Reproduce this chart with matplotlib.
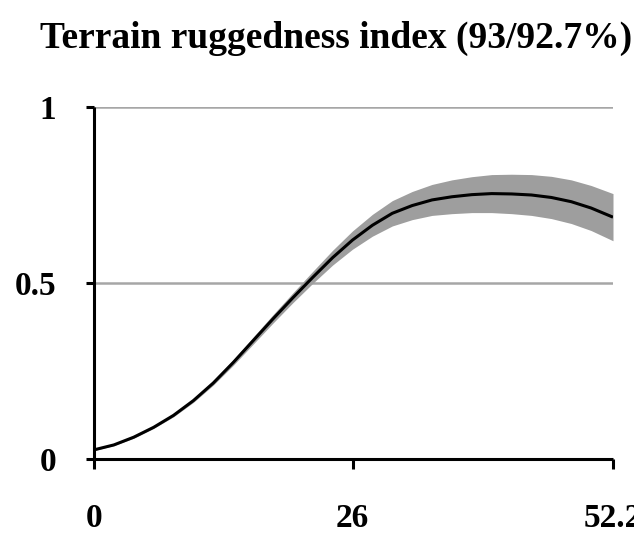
import numpy as np
import matplotlib
matplotlib.use("Agg")
import matplotlib.pyplot as plt

# --- data ---
x_vals = [0, 2, 4, 6, 8, 10, 12, 14, 16, 18, 20, 22, 24, 26, 28, 30,
          32, 34, 36, 38, 40, 42, 44, 46, 48, 50, 52.2]
y_mean = [0.026, 0.040, 0.062, 0.090, 0.124, 0.166, 0.216, 0.274, 0.336,
          0.398, 0.458, 0.516, 0.572, 0.622, 0.664, 0.698, 0.720, 0.736,
          0.745, 0.751, 0.754, 0.753, 0.750, 0.743, 0.731, 0.713, 0.687]
half_band = [0.002, 0.002, 0.003, 0.003, 0.004, 0.005, 0.006, 0.008, 0.010,
             0.012, 0.014, 0.017, 0.021, 0.026, 0.031, 0.036, 0.040, 0.044,
             0.048, 0.051, 0.054, 0.056, 0.058, 0.060, 0.062, 0.064, 0.067]
x_ticks = [0, 26, 52.2]
x_labels = ["0", "26", "52.2"]
y_ticks = [0, 0.5, 1]
y_labels = ["0", "0.5", "1"]
title = "Terrain ruggedness index (93/92.7%)"

plt.rcParams["font.family"] = ["Liberation Serif", "DejaVu Serif"]
plt.rcParams["font.weight"] = "bold"

x = np.array(x_vals)
y = np.array(y_mean)
hw = np.array(half_band)

fig = plt.figure(figsize=(6.34, 5.33), dpi=100)
ax = fig.add_axes([94 / 634, 1 - 459 / 533, (613 - 94) / 634, (459 - 107) / 533])

# grid lines
for g in [0.5, 1]:
    ax.axhline(g, color="#a6a6a6", lw=1.8, zorder=1)

ax.fill_between(x, y - hw, y + hw, color="#9e9e9e", lw=0, zorder=2)
ax.plot(x, y, color="black", lw=2.2, zorder=3, solid_capstyle="butt")

ax.set_xlim(0, 52.2)
ax.set_ylim(0, 1)
for s in ["top", "right"]:
    ax.spines[s].set_visible(False)
for s in ["left", "bottom"]:
    ax.spines[s].set_linewidth(2.2)
    ax.spines[s].set_capstyle("butt")
ax.spines["bottom"].set_zorder(4)

ax.set_xticks(x_ticks)
ax.set_xticklabels(x_labels)
ax.set_yticks(y_ticks)
ax.set_yticklabels(y_labels)
ax.tick_params(axis="x", direction="out", length=7, width=2.2, pad=25, labelsize=24)
ax.tick_params(axis="y", direction="out", length=6, width=2.2, pad=21, labelsize=24)
for lab in ax.get_xticklabels() + ax.get_yticklabels():
    lab.set_fontweight("bold")
ax.patch.set_alpha(0)

fig.text(336 / 634, 1 - 48 / 533, title, ha="center", va="baseline",
         fontsize=27, fontweight="bold")

fig.savefig("out.png", dpi=100)
